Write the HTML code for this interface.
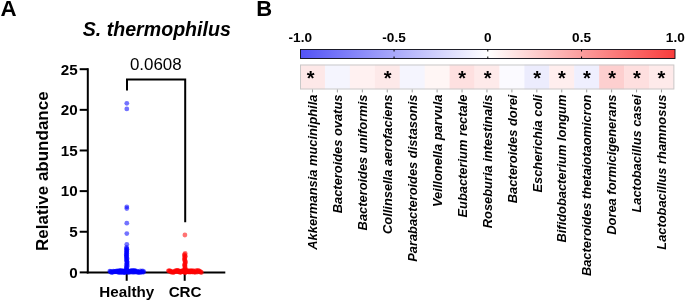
<!DOCTYPE html>
<html><head><meta charset="utf-8"><title>Figure</title><style>html,body{margin:0;padding:0;background:#fff}svg{display:block}</style></head><body>
<svg width="685" height="302" viewBox="0 0 685 302" font-family='"Liberation Sans", Arial, Helvetica, sans-serif'>
<rect width="685" height="302" fill="#fff"/>
<text x="0.4" y="16.1" font-size="22.3" font-weight="bold" fill="#000">A</text>
<text x="256.3" y="16" font-size="22" font-weight="bold" fill="#000">B</text>
<text x="156.8" y="36.2" font-size="19.6" font-weight="bold" font-style="italic" text-anchor="middle" fill="#000">S. thermophilus</text>
<text transform="translate(48,171.2) rotate(-90)" font-size="17" font-weight="bold" text-anchor="middle" fill="#000">Relative abundance</text>
<g stroke="#000" stroke-width="2" fill="none" stroke-linecap="butt">
<path d="M87.8 68.2 V273.4"/>
<path d="M86.8 272.4 H225.3"/>
<path d="M79.7 272.40 H87.8"/>
<path d="M79.7 231.76 H87.8"/>
<path d="M79.7 191.12 H87.8"/>
<path d="M79.7 150.48 H87.8"/>
<path d="M79.7 109.84 H87.8"/>
<path d="M79.7 69.20 H87.8"/>
<path d="M126.7 272.4 V280.8"/>
<path d="M184.7 272.4 V280.8"/>
<path d="M127 90.6 V79.5 H185.2 V222.3" stroke-linejoin="miter"/>
</g>
<text x="77.6" y="277.70" font-size="15.2" font-weight="bold" text-anchor="end" fill="#000">0</text>
<text x="77.6" y="237.06" font-size="15.2" font-weight="bold" text-anchor="end" fill="#000">5</text>
<text x="77.6" y="196.42" font-size="15.2" font-weight="bold" text-anchor="end" fill="#000">10</text>
<text x="77.6" y="155.78" font-size="15.2" font-weight="bold" text-anchor="end" fill="#000">15</text>
<text x="77.6" y="115.14" font-size="15.2" font-weight="bold" text-anchor="end" fill="#000">20</text>
<text x="77.6" y="74.50" font-size="15.2" font-weight="bold" text-anchor="end" fill="#000">25</text>
<text x="126.8" y="296.6" font-size="15.2" font-weight="bold" text-anchor="middle" fill="#000">Healthy</text>
<text x="185.1" y="296.6" font-size="15.2" font-weight="bold" text-anchor="middle" fill="#000">CRC</text>
<text x="155.8" y="69.6" font-size="16.9" text-anchor="middle" fill="#000">0.0608</text>
<g fill="#0000ff" fill-opacity="0.55">
<circle cx="126.8" cy="103.3" r="2.4"/>
<circle cx="126.8" cy="108.9" r="2.4"/>
<circle cx="126.8" cy="206.8" r="2.4"/>
<circle cx="126.8" cy="208.5" r="2.4"/>
<circle cx="126.8" cy="223.2" r="2.4"/>
<circle cx="126.8" cy="233.6" r="2.4"/>
<circle cx="126.8" cy="244.3" r="2.4"/>
<circle cx="126.6" cy="247.5" r="2.4"/>
<circle cx="126.5" cy="248.4" r="2.4"/>
<circle cx="127.0" cy="249.2" r="2.4"/>
<circle cx="126.4" cy="250.1" r="2.4"/>
<circle cx="126.8" cy="250.9" r="2.4"/>
<circle cx="126.7" cy="251.8" r="2.4"/>
<circle cx="126.4" cy="252.7" r="2.4"/>
<circle cx="126.8" cy="253.5" r="2.4"/>
<circle cx="126.3" cy="254.4" r="2.4"/>
<circle cx="126.7" cy="255.2" r="2.4"/>
<circle cx="126.4" cy="256.1" r="2.4"/>
<circle cx="126.4" cy="256.9" r="2.4"/>
<circle cx="126.7" cy="257.8" r="2.4"/>
<circle cx="127.1" cy="258.7" r="2.4"/>
<circle cx="126.4" cy="259.5" r="2.4"/>
<circle cx="126.5" cy="260.4" r="2.4"/>
<circle cx="126.9" cy="261.2" r="2.4"/>
<circle cx="127.2" cy="262.1" r="2.4"/>
<circle cx="126.9" cy="263.0" r="2.4"/>
<circle cx="126.7" cy="263.8" r="2.4"/>
<circle cx="127.3" cy="264.7" r="2.4"/>
<circle cx="126.3" cy="265.5" r="2.4"/>
<circle cx="127.2" cy="266.4" r="2.4"/>
<circle cx="126.6" cy="267.2" r="2.4"/>
<circle cx="126.4" cy="268.1" r="2.4"/>
<circle cx="126.4" cy="269.0" r="2.4"/>
<circle cx="126.6" cy="269.8" r="2.4"/>
<circle cx="127.1" cy="270.7" r="2.4"/>
<circle cx="126.5" cy="271.5" r="2.4"/>
<circle cx="126.9" cy="272.4" r="2.4"/>
<circle cx="109.8" cy="271.2" r="2.4"/>
<circle cx="110.4" cy="271.8" r="2.4"/>
<circle cx="111.0" cy="271.4" r="2.4"/>
<circle cx="111.5" cy="272.4" r="2.4"/>
<circle cx="112.1" cy="272.4" r="2.4"/>
<circle cx="112.7" cy="272.1" r="2.4"/>
<circle cx="113.3" cy="271.1" r="2.4"/>
<circle cx="113.8" cy="271.6" r="2.4"/>
<circle cx="114.4" cy="271.9" r="2.4"/>
<circle cx="115.0" cy="271.3" r="2.4"/>
<circle cx="115.6" cy="271.6" r="2.4"/>
<circle cx="116.1" cy="271.9" r="2.4"/>
<circle cx="116.7" cy="270.9" r="2.4"/>
<circle cx="117.3" cy="271.1" r="2.4"/>
<circle cx="117.9" cy="272.0" r="2.4"/>
<circle cx="118.4" cy="271.4" r="2.4"/>
<circle cx="119.0" cy="271.4" r="2.4"/>
<circle cx="119.6" cy="270.7" r="2.4"/>
<circle cx="120.2" cy="271.0" r="2.4"/>
<circle cx="120.7" cy="271.9" r="2.4"/>
<circle cx="121.3" cy="270.5" r="2.4"/>
<circle cx="121.9" cy="272.3" r="2.4"/>
<circle cx="122.5" cy="271.7" r="2.4"/>
<circle cx="123.1" cy="271.0" r="2.4"/>
<circle cx="123.6" cy="272.2" r="2.4"/>
<circle cx="124.2" cy="271.5" r="2.4"/>
<circle cx="124.8" cy="272.4" r="2.4"/>
<circle cx="125.4" cy="271.2" r="2.4"/>
<circle cx="125.9" cy="271.0" r="2.4"/>
<circle cx="126.5" cy="271.4" r="2.4"/>
<circle cx="127.1" cy="270.7" r="2.4"/>
<circle cx="127.7" cy="271.9" r="2.4"/>
<circle cx="128.2" cy="271.1" r="2.4"/>
<circle cx="128.8" cy="271.3" r="2.4"/>
<circle cx="129.4" cy="271.3" r="2.4"/>
<circle cx="130.0" cy="271.6" r="2.4"/>
<circle cx="130.5" cy="270.8" r="2.4"/>
<circle cx="131.1" cy="270.6" r="2.4"/>
<circle cx="131.7" cy="271.6" r="2.4"/>
<circle cx="132.3" cy="271.2" r="2.4"/>
<circle cx="132.9" cy="272.4" r="2.4"/>
<circle cx="133.4" cy="271.1" r="2.4"/>
<circle cx="134.0" cy="271.2" r="2.4"/>
<circle cx="134.6" cy="270.5" r="2.4"/>
<circle cx="135.2" cy="270.9" r="2.4"/>
<circle cx="135.7" cy="271.9" r="2.4"/>
<circle cx="136.3" cy="271.7" r="2.4"/>
<circle cx="136.9" cy="271.2" r="2.4"/>
<circle cx="137.5" cy="272.5" r="2.4"/>
<circle cx="138.0" cy="271.6" r="2.4"/>
<circle cx="138.6" cy="272.2" r="2.4"/>
<circle cx="139.2" cy="272.3" r="2.4"/>
<circle cx="139.8" cy="272.4" r="2.4"/>
<circle cx="140.3" cy="271.0" r="2.4"/>
<circle cx="140.9" cy="272.2" r="2.4"/>
<circle cx="141.5" cy="272.0" r="2.4"/>
<circle cx="142.1" cy="271.7" r="2.4"/>
<circle cx="142.6" cy="270.8" r="2.4"/>
<circle cx="143.2" cy="272.3" r="2.4"/>
<circle cx="143.8" cy="271.6" r="2.4"/>
<circle cx="127.6" cy="270.9" r="2.4"/>
<circle cx="132.2" cy="270.9" r="2.4"/>
<circle cx="123.0" cy="271.8" r="2.4"/>
<circle cx="124.4" cy="270.9" r="2.4"/>
<circle cx="134.6" cy="272.2" r="2.4"/>
<circle cx="121.3" cy="272.1" r="2.4"/>
<circle cx="122.3" cy="271.6" r="2.4"/>
<circle cx="128.3" cy="272.0" r="2.4"/>
<circle cx="118.4" cy="271.7" r="2.4"/>
<circle cx="124.6" cy="271.5" r="2.4"/>
<circle cx="134.5" cy="271.3" r="2.4"/>
<circle cx="127.1" cy="271.4" r="2.4"/>
<circle cx="129.8" cy="272.4" r="2.4"/>
<circle cx="133.6" cy="271.1" r="2.4"/>
<circle cx="133.2" cy="271.1" r="2.4"/>
<circle cx="125.0" cy="271.8" r="2.4"/>
<circle cx="120.1" cy="271.4" r="2.4"/>
<circle cx="119.4" cy="272.4" r="2.4"/>
<circle cx="121.8" cy="272.2" r="2.4"/>
<circle cx="124.1" cy="272.4" r="2.4"/>
<circle cx="118.3" cy="272.2" r="2.4"/>
<circle cx="120.0" cy="271.8" r="2.4"/>
<circle cx="118.7" cy="270.9" r="2.4"/>
<circle cx="128.7" cy="272.2" r="2.4"/>
<circle cx="122.6" cy="271.9" r="2.4"/>
<circle cx="124.5" cy="272.3" r="2.4"/>
<circle cx="132.7" cy="270.7" r="2.4"/>
<circle cx="126.2" cy="271.6" r="2.4"/>
<circle cx="119.8" cy="272.3" r="2.4"/>
<circle cx="124.1" cy="272.0" r="2.4"/>
</g>
<g fill="#ff0000" fill-opacity="0.55">
<circle cx="184.9" cy="235.0" r="2.4"/>
<circle cx="185.2" cy="253.5" r="2.4"/>
<circle cx="184.6" cy="254.4" r="2.4"/>
<circle cx="184.4" cy="255.3" r="2.4"/>
<circle cx="185.4" cy="256.2" r="2.4"/>
<circle cx="184.9" cy="257.1" r="2.4"/>
<circle cx="184.5" cy="258.0" r="2.4"/>
<circle cx="184.9" cy="258.9" r="2.4"/>
<circle cx="184.4" cy="259.8" r="2.4"/>
<circle cx="184.9" cy="260.7" r="2.4"/>
<circle cx="185.4" cy="261.6" r="2.4"/>
<circle cx="185.3" cy="262.5" r="2.4"/>
<circle cx="185.1" cy="263.4" r="2.4"/>
<circle cx="184.7" cy="264.3" r="2.4"/>
<circle cx="184.8" cy="265.2" r="2.4"/>
<circle cx="184.6" cy="266.1" r="2.4"/>
<circle cx="185.2" cy="267.0" r="2.4"/>
<circle cx="184.9" cy="267.9" r="2.4"/>
<circle cx="185.2" cy="268.8" r="2.4"/>
<circle cx="184.7" cy="269.7" r="2.4"/>
<circle cx="184.6" cy="270.6" r="2.4"/>
<circle cx="185.2" cy="271.5" r="2.4"/>
<circle cx="185.4" cy="272.4" r="2.4"/>
<circle cx="168.4" cy="270.8" r="2.4"/>
<circle cx="169.0" cy="270.9" r="2.4"/>
<circle cx="169.6" cy="270.9" r="2.4"/>
<circle cx="170.2" cy="271.0" r="2.4"/>
<circle cx="170.8" cy="272.0" r="2.4"/>
<circle cx="171.4" cy="271.5" r="2.4"/>
<circle cx="172.0" cy="271.8" r="2.4"/>
<circle cx="172.6" cy="272.4" r="2.4"/>
<circle cx="173.2" cy="272.4" r="2.4"/>
<circle cx="173.8" cy="271.9" r="2.4"/>
<circle cx="174.4" cy="272.0" r="2.4"/>
<circle cx="175.0" cy="271.1" r="2.4"/>
<circle cx="175.6" cy="270.6" r="2.4"/>
<circle cx="176.2" cy="271.6" r="2.4"/>
<circle cx="176.8" cy="270.6" r="2.4"/>
<circle cx="177.4" cy="270.5" r="2.4"/>
<circle cx="178.0" cy="270.6" r="2.4"/>
<circle cx="178.6" cy="271.8" r="2.4"/>
<circle cx="179.2" cy="272.1" r="2.4"/>
<circle cx="179.8" cy="272.0" r="2.4"/>
<circle cx="180.4" cy="272.1" r="2.4"/>
<circle cx="181.0" cy="272.1" r="2.4"/>
<circle cx="181.6" cy="271.3" r="2.4"/>
<circle cx="182.2" cy="270.7" r="2.4"/>
<circle cx="182.8" cy="270.8" r="2.4"/>
<circle cx="183.4" cy="271.5" r="2.4"/>
<circle cx="184.0" cy="271.2" r="2.4"/>
<circle cx="184.6" cy="270.9" r="2.4"/>
<circle cx="185.2" cy="272.3" r="2.4"/>
<circle cx="185.8" cy="271.2" r="2.4"/>
<circle cx="186.4" cy="270.7" r="2.4"/>
<circle cx="187.0" cy="270.9" r="2.4"/>
<circle cx="187.6" cy="271.0" r="2.4"/>
<circle cx="188.2" cy="271.5" r="2.4"/>
<circle cx="188.8" cy="272.1" r="2.4"/>
<circle cx="189.4" cy="270.9" r="2.4"/>
<circle cx="190.0" cy="271.8" r="2.4"/>
<circle cx="190.6" cy="270.9" r="2.4"/>
<circle cx="191.2" cy="270.6" r="2.4"/>
<circle cx="191.8" cy="271.7" r="2.4"/>
<circle cx="192.4" cy="271.7" r="2.4"/>
<circle cx="193.0" cy="270.6" r="2.4"/>
<circle cx="193.6" cy="271.1" r="2.4"/>
<circle cx="194.2" cy="272.2" r="2.4"/>
<circle cx="194.8" cy="272.2" r="2.4"/>
<circle cx="195.4" cy="272.2" r="2.4"/>
<circle cx="196.0" cy="270.7" r="2.4"/>
<circle cx="196.6" cy="270.9" r="2.4"/>
<circle cx="197.2" cy="272.2" r="2.4"/>
<circle cx="197.8" cy="270.8" r="2.4"/>
<circle cx="198.4" cy="270.5" r="2.4"/>
<circle cx="199.0" cy="271.2" r="2.4"/>
<circle cx="199.6" cy="271.8" r="2.4"/>
<circle cx="200.2" cy="271.4" r="2.4"/>
<circle cx="200.8" cy="272.2" r="2.4"/>
<circle cx="201.4" cy="272.5" r="2.4"/>
<circle cx="192.7" cy="271.3" r="2.4"/>
<circle cx="185.3" cy="270.8" r="2.4"/>
<circle cx="183.8" cy="270.9" r="2.4"/>
<circle cx="190.3" cy="272.1" r="2.4"/>
<circle cx="180.8" cy="272.0" r="2.4"/>
<circle cx="180.6" cy="271.4" r="2.4"/>
<circle cx="180.9" cy="271.7" r="2.4"/>
<circle cx="178.8" cy="270.9" r="2.4"/>
<circle cx="182.5" cy="271.7" r="2.4"/>
<circle cx="186.3" cy="270.9" r="2.4"/>
<circle cx="183.6" cy="270.8" r="2.4"/>
<circle cx="184.9" cy="271.5" r="2.4"/>
<circle cx="185.3" cy="272.5" r="2.4"/>
<circle cx="183.9" cy="272.2" r="2.4"/>
<circle cx="176.7" cy="271.1" r="2.4"/>
<circle cx="179.5" cy="271.6" r="2.4"/>
<circle cx="188.6" cy="271.5" r="2.4"/>
<circle cx="182.0" cy="271.6" r="2.4"/>
<circle cx="185.8" cy="271.1" r="2.4"/>
<circle cx="178.4" cy="271.5" r="2.4"/>
<circle cx="180.8" cy="272.0" r="2.4"/>
<circle cx="189.4" cy="271.6" r="2.4"/>
<circle cx="185.9" cy="271.1" r="2.4"/>
<circle cx="191.7" cy="271.7" r="2.4"/>
<circle cx="186.8" cy="271.6" r="2.4"/>
<circle cx="185.1" cy="271.3" r="2.4"/>
<circle cx="184.1" cy="271.5" r="2.4"/>
<circle cx="184.5" cy="270.8" r="2.4"/>
<circle cx="188.2" cy="270.9" r="2.4"/>
<circle cx="192.2" cy="272.0" r="2.4"/>
</g>
<defs><linearGradient id="cb" x1="0" x2="1" y1="0" y2="0"><stop offset="0" stop-color="#5252f6"/><stop offset="0.5" stop-color="#ffffff"/><stop offset="1" stop-color="#f93c3c"/></linearGradient></defs>
<rect x="300.5" y="49.5" width="374.5" height="9" fill="url(#cb)" stroke="#0a0a14" stroke-width="0.9"/>
<text x="300.30" y="42" font-size="13.6" font-weight="bold" text-anchor="middle" fill="#000">-1.0</text>
<text x="394.05" y="42" font-size="13.6" font-weight="bold" text-anchor="middle" fill="#000">-0.5</text>
<path d="M394.05 49.5 V51.5 M394.05 56.5 V58.5" stroke="#000" stroke-width="1"/>
<text x="487.80" y="42" font-size="13.6" font-weight="bold" text-anchor="middle" fill="#000">0</text>
<path d="M487.80 49.5 V51.5 M487.80 56.5 V58.5" stroke="#000" stroke-width="1"/>
<text x="581.55" y="42" font-size="13.6" font-weight="bold" text-anchor="middle" fill="#000">0.5</text>
<path d="M581.55 49.5 V51.5 M581.55 56.5 V58.5" stroke="#000" stroke-width="1"/>
<text x="675.30" y="42" font-size="13.6" font-weight="bold" text-anchor="middle" fill="#000">1.0</text>
<rect x="300.00" y="64.6" width="25.23" height="24.7" fill="#fde8e8"/>
<rect x="324.93" y="64.6" width="25.23" height="24.7" fill="#f5f5fe"/>
<rect x="349.86" y="64.6" width="25.23" height="24.7" fill="#fff1f1"/>
<rect x="374.79" y="64.6" width="25.23" height="24.7" fill="#fde9e9"/>
<rect x="399.72" y="64.6" width="25.23" height="24.7" fill="#f5f5fe"/>
<rect x="424.65" y="64.6" width="25.23" height="24.7" fill="#fff6f5"/>
<rect x="449.58" y="64.6" width="25.23" height="24.7" fill="#fee0e0"/>
<rect x="474.51" y="64.6" width="25.23" height="24.7" fill="#feeaea"/>
<rect x="499.44" y="64.6" width="25.23" height="24.7" fill="#fbfaff"/>
<rect x="524.37" y="64.6" width="25.23" height="24.7" fill="#ececfd"/>
<rect x="549.30" y="64.6" width="25.23" height="24.7" fill="#ffeeee"/>
<rect x="574.23" y="64.6" width="25.23" height="24.7" fill="#efeffe"/>
<rect x="599.16" y="64.6" width="25.23" height="24.7" fill="#fdcfcf"/>
<rect x="624.09" y="64.6" width="25.23" height="24.7" fill="#fedfdf"/>
<rect x="649.02" y="64.6" width="25.23" height="24.7" fill="#feeaea"/>
<rect x="300.50" y="65" width="373.35" height="24" fill="none" stroke="#c9c9c9" stroke-width="1"/>
<path d="M312.46 89.5 V92.4" stroke="#9a9a9a" stroke-width="1"/>
<text x="310.7" y="84.7" font-size="20" font-weight="bold" text-anchor="middle" fill="#000">*</text>
<text transform="translate(317.16,94.6) rotate(-90)" font-size="12.87" font-weight="bold" font-style="italic" text-anchor="end" fill="#000">Akkermansia muciniphila</text>
<path d="M337.39 89.5 V92.4" stroke="#9a9a9a" stroke-width="1"/>
<text transform="translate(342.09,94.6) rotate(-90)" font-size="12.87" font-weight="bold" font-style="italic" text-anchor="end" fill="#000">Bacteroides ovatus</text>
<path d="M362.32 89.5 V92.4" stroke="#9a9a9a" stroke-width="1"/>
<text transform="translate(367.02,94.6) rotate(-90)" font-size="12.87" font-weight="bold" font-style="italic" text-anchor="end" fill="#000">Bacteroides uniformis</text>
<path d="M387.25 89.5 V92.4" stroke="#9a9a9a" stroke-width="1"/>
<text x="387.6" y="84.7" font-size="20" font-weight="bold" text-anchor="middle" fill="#000">*</text>
<text transform="translate(391.95,94.6) rotate(-90)" font-size="12.87" font-weight="bold" font-style="italic" text-anchor="end" fill="#000">Collinsella aerofaciens</text>
<path d="M412.19 89.5 V92.4" stroke="#9a9a9a" stroke-width="1"/>
<text transform="translate(416.88,94.6) rotate(-90)" font-size="12.87" font-weight="bold" font-style="italic" text-anchor="end" fill="#000">Parabacteroides distasonis</text>
<path d="M437.12 89.5 V92.4" stroke="#9a9a9a" stroke-width="1"/>
<text transform="translate(441.81,94.6) rotate(-90)" font-size="12.87" font-weight="bold" font-style="italic" text-anchor="end" fill="#000">Veillonella parvula</text>
<path d="M462.04 89.5 V92.4" stroke="#9a9a9a" stroke-width="1"/>
<text x="462.2" y="84.7" font-size="20" font-weight="bold" text-anchor="middle" fill="#000">*</text>
<text transform="translate(466.74,94.6) rotate(-90)" font-size="12.87" font-weight="bold" font-style="italic" text-anchor="end" fill="#000">Eubacterium rectale</text>
<path d="M486.98 89.5 V92.4" stroke="#9a9a9a" stroke-width="1"/>
<text x="487.6" y="84.7" font-size="20" font-weight="bold" text-anchor="middle" fill="#000">*</text>
<text transform="translate(491.68,94.6) rotate(-90)" font-size="12.87" font-weight="bold" font-style="italic" text-anchor="end" fill="#000">Roseburia intestinalis</text>
<path d="M511.90 89.5 V92.4" stroke="#9a9a9a" stroke-width="1"/>
<text transform="translate(516.61,94.6) rotate(-90)" font-size="12.87" font-weight="bold" font-style="italic" text-anchor="end" fill="#000">Bacteroides dorei</text>
<path d="M536.84 89.5 V92.4" stroke="#9a9a9a" stroke-width="1"/>
<text x="537.2" y="84.7" font-size="20" font-weight="bold" text-anchor="middle" fill="#000">*</text>
<text transform="translate(541.54,94.6) rotate(-90)" font-size="12.87" font-weight="bold" font-style="italic" text-anchor="end" fill="#000">Escherichia coli</text>
<path d="M561.76 89.5 V92.4" stroke="#9a9a9a" stroke-width="1"/>
<text x="562.0" y="84.7" font-size="20" font-weight="bold" text-anchor="middle" fill="#000">*</text>
<text transform="translate(566.47,94.6) rotate(-90)" font-size="12.87" font-weight="bold" font-style="italic" text-anchor="end" fill="#000">Bifidobacterium longum</text>
<path d="M586.69 89.5 V92.4" stroke="#9a9a9a" stroke-width="1"/>
<text x="586.8" y="84.7" font-size="20" font-weight="bold" text-anchor="middle" fill="#000">*</text>
<text transform="translate(591.39,94.6) rotate(-90)" font-size="12.87" font-weight="bold" font-style="italic" text-anchor="end" fill="#000">Bacteroides thetaiotaomicron</text>
<path d="M611.62 89.5 V92.4" stroke="#9a9a9a" stroke-width="1"/>
<text x="612.2" y="84.7" font-size="20" font-weight="bold" text-anchor="middle" fill="#000">*</text>
<text transform="translate(616.33,94.6) rotate(-90)" font-size="12.87" font-weight="bold" font-style="italic" text-anchor="end" fill="#000">Dorea formicigenerans</text>
<path d="M636.56 89.5 V92.4" stroke="#9a9a9a" stroke-width="1"/>
<text x="637.0" y="84.7" font-size="20" font-weight="bold" text-anchor="middle" fill="#000">*</text>
<text transform="translate(641.26,94.6) rotate(-90)" font-size="12.87" font-weight="bold" font-style="italic" text-anchor="end" fill="#000">Lactobacillus casei</text>
<path d="M661.49 89.5 V92.4" stroke="#9a9a9a" stroke-width="1"/>
<text x="661.4" y="84.7" font-size="20" font-weight="bold" text-anchor="middle" fill="#000">*</text>
<text transform="translate(666.19,94.6) rotate(-90)" font-size="12.87" font-weight="bold" font-style="italic" text-anchor="end" fill="#000">Lactobacillus rhamnosus</text>
</svg>
</body></html>
